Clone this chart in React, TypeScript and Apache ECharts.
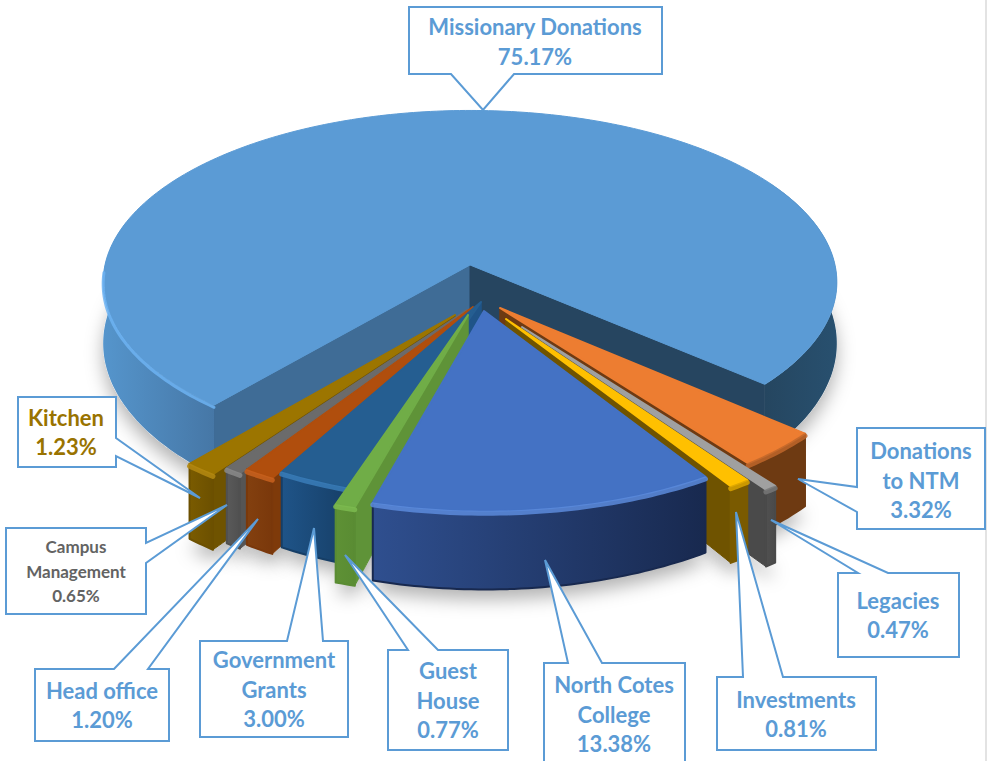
import React, { useEffect, useRef } from "react";
import * as echarts from "echarts";

// ---- data (clockwise from the right-hand edge of the big slice)
const names = [
  "Donations\nto NTM", "Legacies", "Investments", "North Cotes\nCollege", "Guest\nHouse",
  "Government\nGrants", "Head office", "Campus\nManagement", "Kitchen", "Missionary Donations",
];
const shares = [3.32, 0.47, 0.81, 13.38, 0.77, 3.0, 1.2, 0.65, 1.23, 75.17];

// ---- drawing style and layout, apart from the data
const drawOrder = [9, 0, 1, 2, 8, 7, 6, 5, 4, 3];
const START = 131;
const CX = 470, CY = 265, RX = 365, RY = 170, K = 0.1, DEPTH = 60;

const tips: number[][] = [
  [500, 308], [522, 327], [506, 319], [484, 311], [468, 315],
  [481, 302], [473, 307], [467, 310], [455, 315], [470, 265],
];
const topCol = ["#ED7D31", "#A0A0A0", "#FFC000", "#4472C4", "#70AD47", "#255E91", "#B04E0D", "#6B6B6B", "#9C7500", "#5B9BD5"];
const wallA = ["#6E3A12", "#505050", "#7A5A00", "#2F4F8F", "#5E9135", "#1F5488", "#83400F", "#5A5A5A", "#7A5B00", "#5595CC"];
const wallB = ["#6E3A12", "#4A4A4A", "#7A5A00", "#18294F", "#5A8C33", "#163E66", "#7A380B", "#505050", "#6C5000", "#4677A6"];
const sideCol = ["#6E3A12", "#4A4A4A", "#6F5300", "#2A4A85", "#5F9338", "#1F5488", "#7E3A0A", "#555555", "#6F5300", "#3F6C96"];
const rimCol = ["#C0662A", "#777777", "#D9A300", "#5C8BDC", "#7DBB50", "#3A7DB8", "#C9611E", "#8A8A8A", "#B58A10", "#6DB3F2"];

const LINE = "#5B9BD5";
type Callout = { pts: number[][]; x: number; y: number; color: string; size: number; lh: number };
const callouts: Callout[] = [
  { pts: [[857, 428], [985, 428], [985, 529], [857, 529], [857, 512], [798, 479], [857, 487]], x: 921, y: 480, color: LINE, size: 22, lh: 29.5 },
  { pts: [[838, 573], [858, 573], [771, 520], [888, 573], [959, 573], [959, 657], [838, 657]], x: 898, y: 615, color: LINE, size: 22, lh: 29 },
  { pts: [[717, 677], [743, 677], [736, 512], [783, 677], [876, 677], [876, 750], [717, 750]], x: 796, y: 714, color: LINE, size: 22, lh: 29 },
  { pts: [[544, 663], [568, 663], [545, 560], [602, 663], [685, 663], [685, 775], [544, 775]], x: 614, y: 714, color: LINE, size: 22, lh: 29.5 },
  { pts: [[388, 650], [408, 650], [345, 555], [438, 650], [508, 650], [508, 750], [388, 750]], x: 448, y: 700, color: LINE, size: 22, lh: 29.5 },
  { pts: [[200, 641], [287, 641], [314, 528], [323, 641], [348, 641], [348, 737], [200, 737]], x: 274, y: 689, color: LINE, size: 22, lh: 29.5 },
  { pts: [[35, 669], [114, 669], [258, 519], [148, 669], [169, 669], [169, 741], [35, 741]], x: 102, y: 705, color: LINE, size: 22, lh: 29 },
  { pts: [[6, 528], [146, 528], [146, 543], [227, 505], [146, 563], [146, 614], [6, 614]], x: 76, y: 571, color: "#636363", size: 17, lh: 24.5 },
  { pts: [[18, 397], [116, 397], [116, 438], [200, 498], [116, 456], [116, 467], [18, 467]], x: 66, y: 432, color: "#997300", size: 22, lh: 29 },
  { pts: [[409, 7], [662, 7], [662, 74], [514, 74], [483, 110], [451, 74], [409, 74]], x: 535, y: 41, color: LINE, size: 22, lh: 30 },
];

const project = (X: number, Y: number, h: number) => {
  const s = 1 / (1 + K * Y);
  return [CX + RX * X * s, CY - RY * Y * s + h * DEPTH * s * s];
};
const offsetOf = (tip: number[]) => {
  const a = (CY - tip[1]) / RY;
  const Y = a / (1 - K * a);
  const s = 1 / (1 + K * Y);
  return [(tip[0] - CX) / (RX * s), Y];
};
const rad = (d: number) => (d * Math.PI) / 180;

const sliceRange = (i: number) => {
  let a = START;
  for (let k = 0; k < i; k++) a += shares[k] * 3.6;
  return [a, a + shares[i] * 3.6];
};
const arc = (off: number[], from: number, to: number, h: number) => {
  const out: number[][] = [];
  const n = Math.max(2, Math.ceil(Math.abs(to - from)));
  for (let j = 0; j <= n; j++) {
    const t = rad(from + ((to - from) * j) / n);
    out.push(project(Math.sin(t) + off[0], Math.cos(t) + off[1], h));
  }
  return out;
};
const hGrad = (a: string, b: string) =>
  new echarts.graphic.LinearGradient(0, 0, 1, 0, [{ offset: 0, color: a }, { offset: 1, color: b }]);

const poly = (points: number[][], fill: any, stroke?: string, width?: number) => ({
  type: "polygon",
  shape: { points },
  style: { fill, stroke: stroke || "none", lineWidth: stroke ? width || 1 : 0, lineJoin: "round" },
});

const radialWall = (off: number[], t: number, color: string) => {
  const a = project(off[0], off[1], 0);
  const b = project(off[0], off[1], 1);
  const c = arc(off, t, t + 0.001, 0)[0];
  const d = arc(off, t, t + 0.001, 1)[0];
  return poly([a, c, d, b], color, color);
};

const renderSlice = (_: any, api: any) => {
  const i = api.value(0) as number;
  const [a0, a1] = sliceRange(i);
  const off = offsetOf(tips[i]);
  const children: any[] = [];
  const big = i === 9;
  if (big) {
    children.push(radialWall(off, a0, sideCol[9]));
    children.push(radialWall(off, 491, "#264560"));
    const left = [...arc(off, a0, 285, 0), ...arc(off, 285, a0, 1)];
    children.push(poly(left, hGrad(wallA[9], wallB[9])));
    const right = [...arc(off, 60, 131, 0), ...arc(off, 131, 60, 1)];
    children.push(poly(right, hGrad("#254660", "#28506F")));
  } else {
    const mid = (a0 + a1) / 2;
    const walls = mid > 180 ? [a1, a0] : [a0, a1];
    walls.forEach((t) => children.push(radialWall(off, t, sideCol[i])));
    const outer = [...arc(off, a0, a1, 0), ...arc(off, a1, a0, 1)];
    children.push(poly(outer, hGrad(wallA[i], wallB[i]), wallB[i], 2));
  }
  const top = [project(off[0], off[1], 0), ...arc(off, a0, a1, 0)];
  children.push(poly(top, topCol[i], topCol[i], big ? 1 : 2));
  const rim = big ? arc(off, a0, 268, 0.03) : arc(off, a0, a1, 0.03);
  children.push({
    type: "polyline",
    shape: { points: rim },
    style: { fill: "none", stroke: rimCol[i], lineWidth: big ? 3 : 5, lineCap: "round", opacity: 0.85 },
  });
  return { type: "group", children };
};

const renderShadow = (_: any, api: any) => {
  const i = api.value(0) as number;
  const [a0, a1] = sliceRange(i);
  const off = offsetOf(tips[i]);
  const to = i === 9 ? 491 : a1;
  const pts = [...arc(off, a0, to, 1)];
  if (i !== 9) pts.push(project(off[0], off[1], 1));
  return {
    type: "polygon",
    shape: { points: pts },
    style: {
      fill: "#ffffff",
      shadowBlur: 18,
      shadowOffsetY: 10,
      shadowColor: "rgba(0,0,0,0.3)",
    },
  };
};

const labelText = (i: number) => `${names[i]}\n${shares[i].toFixed(2)}%`;

export default function App() {
  const ref = useRef<HTMLDivElement>(null);
  useEffect(() => {
    const chart = echarts.init(ref.current!, null, { renderer: "svg" });
    const seriesData = drawOrder.map((i) => [i, shares[i]]);
    const graphics: any[] = [
      { type: "line", shape: { x1: 986, y1: 0, x2: 986, y2: 761 }, style: { stroke: "#E3E3E3", lineWidth: 2 }, z: 1 },
    ];
    callouts.forEach((c, i) => {
      graphics.push({
        type: "polygon",
        shape: { points: c.pts },
        style: { fill: "#ffffff", stroke: LINE, lineWidth: 2, lineJoin: "miter" },
        z: 20,
      });
      graphics.push({
        type: "text",
        x: c.x,
        y: c.y,
        style: {
          text: labelText(i),
          fill: c.color,
          fontFamily: "Lato",
          fontWeight: "bold",
          fontSize: c.size,
          lineHeight: c.lh,
          align: "center",
          verticalAlign: "middle",
        },
        z: 21,
      });
    });
    chart.setOption({
      animation: false,
      backgroundColor: "#ffffff",
      series: [
        { type: "custom", coordinateSystem: "none", silent: true, z: 1, data: seriesData, renderItem: renderShadow },
        { type: "custom", coordinateSystem: "none", silent: true, z: 2, data: seriesData, renderItem: renderSlice },
      ],
      graphic: graphics,
    });
    return () => chart.dispose();
  }, []);
  return <div ref={ref} style={{ position: "fixed", left: 0, top: 0, width: 988, height: 761 }} />;
}
